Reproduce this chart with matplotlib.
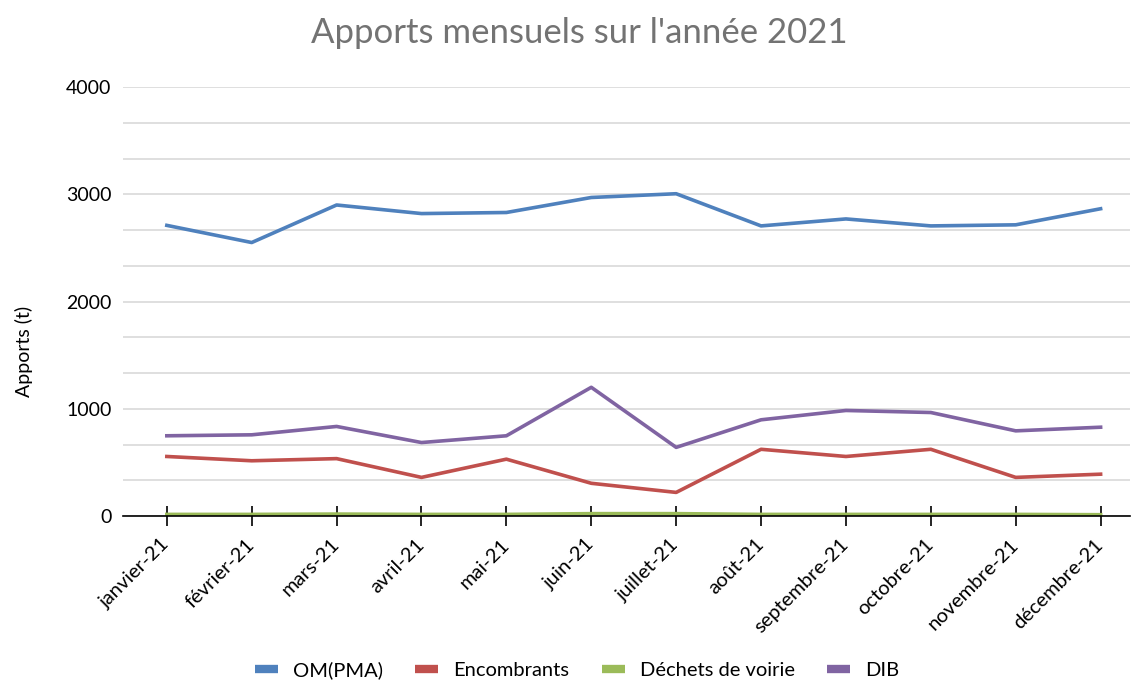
import matplotlib.pyplot as plt
from matplotlib.ticker import MultipleLocator

mois = ["janvier-21", "février-21", "mars-21", "avril-21", "mai-21", "juin-21",
        "juillet-21", "août-21", "septembre-21", "octobre-21", "novembre-21", "décembre-21"]
om_pma = [2710, 2550, 2900, 2820, 2830, 2970, 3005, 2705, 2770, 2705, 2715, 2865]
encombrants = [555, 515, 535, 360, 530, 305, 220, 622, 555, 622, 360, 390]
dechets_voirie = [15, 15, 18, 15, 15, 22, 22, 15, 15, 15, 15, 12]
dib = [748, 757, 835, 685, 748, 1200, 640, 897, 984, 965, 794, 828]

plt.rcParams['font.family'] = ['Lato', 'DejaVu Sans']

fig = plt.figure(figsize=(11.36, 6.82), dpi=100)
ax = fig.add_axes([0.108, 0.2434, 0.887, 0.629])

x = list(range(len(mois)))
ax.plot(x, om_pma, color="#4F81BD", lw=2.6, label="OM(PMA)")
ax.plot(x, encombrants, color="#C0504D", lw=2.6, label="Encombrants")
ax.plot(x, dechets_voirie, color="#9BBB59", lw=2.6, label="Déchets de voirie")
ax.plot(x, dib, color="#8064A2", lw=2.6, label="DIB")

ax.set_xlim(-0.52, 11.35)
ax.set_ylim(0, 4000)
ax.yaxis.set_major_locator(MultipleLocator(1000))
ax.yaxis.set_minor_locator(MultipleLocator(1000 / 3))
ax.grid(True, which="both", axis="y", color="#d9d9d9", lw=1.2)
ax.set_axisbelow(True)
for s in ["top", "right", "left"]:
    ax.spines[s].set_visible(False)
ax.spines["bottom"].set_color("black")
ax.spines["bottom"].set_linewidth(1.2)
ax.tick_params(axis="y", which="both", length=0, labelsize=14, pad=8)
ax.tick_params(axis="x", direction="inout", length=15, width=1.2, labelsize=14.5, pad=11)
ax.set_xticks(x)
ax.set_xticklabels(mois, rotation=45, ha="right", va="center", rotation_mode="anchor")
ax.set_ylabel("Apports (t)", fontsize=14)
ax.yaxis.set_label_coords(24 / 1136, 0.484, transform=fig.transFigure)
ax.yaxis.label.set_va("center")

fig.suptitle("Apports mensuels sur l'année 2021", x=0.51, y=0.975, fontsize=25, color="#737373")

leg = fig.legend(loc="center", bbox_to_anchor=(0.508, 0.0176), ncol=4, frameon=False,
                 fontsize=14.5, handlelength=1.15, columnspacing=1.6, handletextpad=0.75)
for h in leg.get_lines():
    h.set_linewidth(6)
    h.set_solid_capstyle("butt")

fig.savefig("out.png", dpi=100)
